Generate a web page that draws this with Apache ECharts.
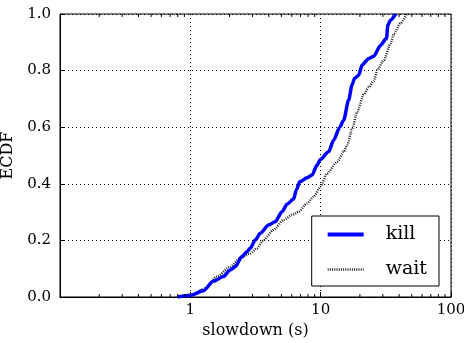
<!DOCTYPE html>
<html><head><meta charset="utf-8">
<script src="https://cdn.jsdelivr.net/npm/echarts@6/dist/echarts.min.js"></script>
<style>html,body{margin:0;padding:0;background:#fff}#c{width:464px;height:343px}</style>
</head><body><div id="c"></div>
<script>
const killX = [0.80,1.0,1.26,1.50,1.79,2.02,2.21,2.48,2.72,2.88,3.15,3.44,3.98,4.48,5.05,5.52,6.2,6.5,6.9,7.86,8.58,9.38,9.95,11.5,12.6,14.0,15.0,16.4,17.4,18.2,19.6,20.8,23.4,25.6,28.8,32.0,32.8,34.4,37.6];
const killY = [0,0.006,0.022,0.056,0.072,0.095,0.107,0.142,0.16,0.172,0.201,0.225,0.254,0.266,0.301,0.328,0.346,0.378,0.407,0.421,0.431,0.466,0.486,0.513,0.555,0.6,0.625,0.696,0.749,0.773,0.784,0.82,0.843,0.851,0.89,0.914,0.961,0.979,1.0];
const waitX = [0.82,1.0,1.3,1.6,2.02,2.41,2.88,3.24,3.65,4.35,5.19,6.03,6.77,7.86,8.84,9.95,11.2,13.4,15.0,16.0,17.4,19.1,21.4,23.4,25.6,27.2,30.5,34.4,36.5,41.0,45.6];
const waitY = [0,0.006,0.03,0.072,0.107,0.137,0.154,0.172,0.201,0.237,0.272,0.29,0.301,0.331,0.354,0.39,0.437,0.478,0.513,0.538,0.592,0.655,0.716,0.741,0.764,0.802,0.837,0.896,0.931,0.967,1.0];
const seriesNames = ['kill','wait'];
const xTickLabels = ['1','10','100'];
const yTicks = [0,0.2,0.4,0.6,0.8,1.0];
const minorTicks = [0.2,0.3,0.4,0.5,0.6,0.7,0.8,0.9,2,3,4,5,6,7,8,9,20,30,40,50,60,70,80,90];

const font = 'DejaVu Serif';
const chart = echarts.init(document.getElementById('c'));
const zip = (xs, ys) => xs.map((x, i) => [x, ys[i]]);
chart.setOption({
  animation: false,
  textStyle: {fontFamily: font},
  grid: {left: 60, right: 13, top: 14, bottom: 46, outerBoundsMode: 'none', containLabel: false,
    show: true, borderColor: '#000', borderWidth: 1, backgroundColor: 'transparent'},
  xAxis: {
    type: 'log', logBase: 10, min: 0.1, max: 100,
    name: 'slowdown (s)', nameLocation: 'middle', nameGap: 23,
    nameTextStyle: {fontFamily: font, fontSize: 16, color: '#000'},
    axisLine: {lineStyle: {color: '#000', width: 1}},
    axisTick: {inside: true, length: 5, lineStyle: {color: '#000'}},
    axisLabel: {fontFamily: font, fontSize: 15, color: '#000', margin: 6, hideOverlap: false,
      formatter: v => { const s = String(Math.round(v)); return xTickLabels.includes(s) && v >= 1 ? s : ''; }},
    splitLine: {show: true, lineStyle: {color: '#000', type: [1, 3], width: 1}}
  },
  yAxis: {
    type: 'value', min: 0, max: 1, interval: 0.2,
    name: 'ECDF', nameLocation: 'middle', nameGap: 34, nameRotate: 90,
    nameTextStyle: {fontFamily: font, fontSize: 16, color: '#000'},
    axisLine: {show: true, lineStyle: {color: '#000', width: 1}},
    axisTick: {show: true, inside: true, length: 4, lineStyle: {color: '#000'}},
    axisLabel: {fontFamily: font, fontSize: 15, color: '#000', margin: 9,
      formatter: v => yTicks.some(t => Math.abs(t - v) < 1e-9) ? v.toFixed(1) : ''},
    splitLine: {show: true, lineStyle: {color: '#000', type: [1, 3], width: 1}}
  },
  legend: {
    data: [
      {name: seriesNames[0], lineStyle: {width: 4, color: '#0000ff', type: 'solid'}},
      {name: seriesNames[1], lineStyle: {width: 2.4, color: '#222', type: [1, 1.2]}}
    ],
    orient: 'vertical', right: 25, bottom: 57,
    backgroundColor: '#fff', borderColor: '#000', borderWidth: 1,
    padding: [9, 12, 7, 14], itemWidth: 36, itemHeight: 12, itemGap: 16,
    itemStyle: {opacity: 0},
    textStyle: {fontFamily: font, fontSize: 19, color: '#000', padding: [0, 0, 0, 17]}
  },
  series: [
    {name: 'kill', type: 'line', data: zip(killX, killY), showSymbol: false, symbol: 'none',
      smooth: 0.25, smoothMonotone: 'x',
      lineStyle: {color: '#0000ff', width: 3.5}, itemStyle: {color: '#0000ff'}, z: 3},
    {name: 'wait', type: 'line', data: zip(waitX, waitY), showSymbol: false, symbol: 'none',
      smooth: 0.25, smoothMonotone: 'x',
      lineStyle: {color: '#222', width: 2.4, type: [1, 1.2]}, itemStyle: {color: '#222'}, z: 2},
    {name: 'minor', type: 'custom', data: minorTicks.map(v => [v]), silent: true, z: 4,
      renderItem: (params, api) => {
        const pb = api.coord([api.value(0), 0]);
        const pt = api.coord([api.value(0), 1]);
        return {type: 'group', children: [
          {type: 'line', shape: {x1: pb[0], y1: pb[1], x2: pb[0], y2: pb[1] - 3}, style: {stroke: '#000', lineWidth: 1}},
          {type: 'line', shape: {x1: pt[0], y1: pt[1], x2: pt[0], y2: pt[1] + 3}, style: {stroke: '#000', lineWidth: 1}}
        ]};
      }}
  ]
});
</script></body></html>
